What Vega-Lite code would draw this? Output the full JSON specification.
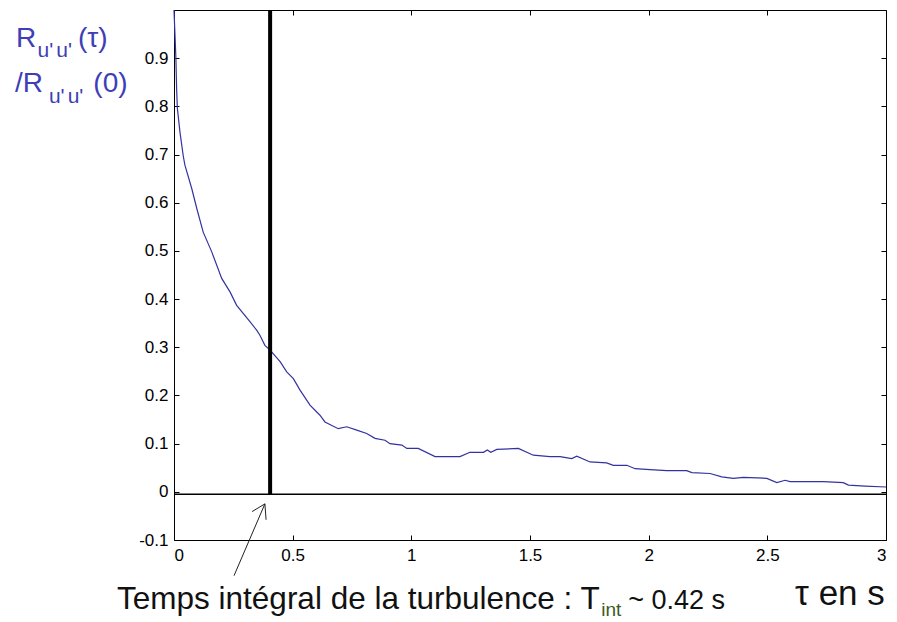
{
  "$schema": "https://vega.github.io/schema/vega-lite/v6.json",
  "width": 712,
  "height": 530,
  "autosize": {"type": "none"},
  "padding": {"left": 174, "top": 10, "right": 11, "bottom": 82},
  "background": "white",
  "config": {
    "view": {"stroke": "#000", "strokeWidth": 1},
    "axis": {
      "labelFont": "Liberation Sans",
      "labelFontSize": 17,
      "labelColor": "#000",
      "tickColor": "#000",
      "tickSize": -5,
      "domain": false,
      "grid": false,
      "title": null
    }
  },
  "datasets": {
    "curve": [
      {"t": 0, "r": 1.0}, {"t": 0.004, "r": 0.95}, {"t": 0.008, "r": 0.9}, {"t": 0.011, "r": 0.837},
      {"t": 0.014, "r": 0.797}, {"t": 0.025, "r": 0.747}, {"t": 0.039, "r": 0.697}, {"t": 0.046, "r": 0.678},
      {"t": 0.075, "r": 0.629}, {"t": 0.096, "r": 0.588}, {"t": 0.123, "r": 0.539}, {"t": 0.159, "r": 0.498},
      {"t": 0.201, "r": 0.443}, {"t": 0.236, "r": 0.415}, {"t": 0.264, "r": 0.387}, {"t": 0.32, "r": 0.353},
      {"t": 0.349, "r": 0.335}, {"t": 0.362, "r": 0.325}, {"t": 0.383, "r": 0.304}, {"t": 0.405, "r": 0.294},
      {"t": 0.447, "r": 0.27}, {"t": 0.475, "r": 0.249}, {"t": 0.503, "r": 0.235}, {"t": 0.531, "r": 0.211},
      {"t": 0.573, "r": 0.18}, {"t": 0.615, "r": 0.159}, {"t": 0.636, "r": 0.145}, {"t": 0.692, "r": 0.131},
      {"t": 0.728, "r": 0.135}, {"t": 0.77, "r": 0.128}, {"t": 0.812, "r": 0.121}, {"t": 0.847, "r": 0.111},
      {"t": 0.889, "r": 0.107}, {"t": 0.91, "r": 0.1}, {"t": 0.96, "r": 0.097}, {"t": 0.981, "r": 0.09},
      {"t": 1.029, "r": 0.09}, {"t": 1.1, "r": 0.073}, {"t": 1.205, "r": 0.073}, {"t": 1.247, "r": 0.082},
      {"t": 1.304, "r": 0.082}, {"t": 1.32, "r": 0.087}, {"t": 1.335, "r": 0.082}, {"t": 1.36, "r": 0.088},
      {"t": 1.451, "r": 0.09}, {"t": 1.514, "r": 0.076}, {"t": 1.584, "r": 0.073}, {"t": 1.627, "r": 0.073},
      {"t": 1.676, "r": 0.069}, {"t": 1.697, "r": 0.074}, {"t": 1.753, "r": 0.062}, {"t": 1.823, "r": 0.06},
      {"t": 1.851, "r": 0.055}, {"t": 1.908, "r": 0.055}, {"t": 1.943, "r": 0.048}, {"t": 2.006, "r": 0.046},
      {"t": 2.076, "r": 0.044}, {"t": 2.16, "r": 0.044}, {"t": 2.182, "r": 0.04}, {"t": 2.259, "r": 0.038},
      {"t": 2.308, "r": 0.031}, {"t": 2.357, "r": 0.028}, {"t": 2.399, "r": 0.03}, {"t": 2.498, "r": 0.028},
      {"t": 2.54, "r": 0.019}, {"t": 2.575, "r": 0.024}, {"t": 2.596, "r": 0.021}, {"t": 2.736, "r": 0.021},
      {"t": 2.82, "r": 0.019}, {"t": 2.842, "r": 0.014}, {"t": 2.912, "r": 0.012}, {"t": 3.0, "r": 0.01}
    ],
    "refs": [
      {"name": "zero", "x": 0, "x2": 3, "y": -0.005, "y2": -0.005},
      {"name": "tint", "x": 0.405, "x2": 0.405, "y": -0.005, "y2": 1.0}
    ],
    "arrow": [
      {"x": 0.253, "y": -0.174, "x2": 0.383, "y2": -0.025},
      {"x": 0.383, "y": -0.025, "x2": 0.329, "y2": -0.041},
      {"x": 0.383, "y": -0.025, "x2": 0.388, "y2": -0.058}
    ],
    "ytitleBig": [
      {"x": -0.666, "y": 0.923, "text": "R"},
      {"x": -0.405, "y": 0.923, "text": "(τ)"},
      {"x": -0.67, "y": 0.83, "text": "/R"},
      {"x": -0.34, "y": 0.83, "text": "(0)"}
    ],
    "ytitleSub": [
      {"x": -0.575, "y": 0.902, "text": "u'"},
      {"x": -0.496, "y": 0.902, "text": "u'"},
      {"x": -0.527, "y": 0.807, "text": "u'"},
      {"x": -0.448, "y": 0.807, "text": "u'"}
    ],
    "caption": [
      {"x": -0.24, "y": -0.243, "text": "Temps intégral de la turbulence : T"}
    ],
    "captionTail": [
      {"x": 1.914, "y": -0.243, "text": "~ 0.42 s"}
    ],
    "captionSub": [
      {"x": 1.8, "y": -0.257, "text": "int"}
    ],
    "xlabel": [
      {"x": 2.617, "y": -0.234, "text": "τ en s"}
    ]
  },
  "layer": [
    {
      "data": {"name": "curve"},
      "mark": {"type": "line", "color": "#3333a0", "strokeWidth": 1.2},
      "encoding": {
        "x": {"field": "t", "type": "quantitative",
              "scale": {"domain": [0, 3], "nice": false, "zero": false},
              "axis": {"orient": "bottom", "values": [0, 0.5, 1, 1.5, 2, 2.5, 3], "format": ".1~f", "labelPadding": 12}},
        "y": {"field": "r", "type": "quantitative",
              "scale": {"domain": [-0.1, 1], "nice": false, "zero": false},
              "axis": {"orient": "left", "values": [-0.1, 0, 0.1, 0.2, 0.3, 0.4, 0.5, 0.6, 0.7, 0.8, 0.9],
                       "labelExpr": "datum.value === 0 ? '0' : (datum.value < 0 ? '-' : '') + format(abs(datum.value), '.1f')",
                       "labelPadding": 11}}
      }
    },
    {
      "data": {"name": "curve"},
      "mark": {"type": "line", "opacity": 0},
      "encoding": {
        "x": {"field": "t", "type": "quantitative",
              "scale": {"domain": [0, 3], "nice": false, "zero": false},
              "axis": {"orient": "top", "values": [0, 0.5, 1, 1.5, 2, 2.5, 3], "labels": false}},
        "y": {"field": "r", "type": "quantitative",
              "scale": {"domain": [-0.1, 1], "nice": false, "zero": false},
              "axis": {"orient": "right", "values": [-0.1, 0, 0.1, 0.2, 0.3, 0.4, 0.5, 0.6, 0.7, 0.8, 0.9], "labels": false}}
      }
    },
    {
      "data": {"name": "refs"},
      "transform": [{"filter": "datum.name === 'zero'"}],
      "mark": {"type": "rule", "color": "#000", "strokeWidth": 1.3},
      "encoding": {
        "x": {"field": "x", "type": "quantitative", "scale": {"domain": [0, 3], "nice": false, "zero": false}, "axis": null},
        "x2": {"field": "x2"},
        "y": {"field": "y", "type": "quantitative", "scale": {"domain": [-0.1, 1], "nice": false, "zero": false}, "axis": null},
        "y2": {"field": "y2"}
      }
    },
    {
      "data": {"name": "refs"},
      "transform": [{"filter": "datum.name === 'tint'"}],
      "mark": {"type": "rule", "color": "#000", "strokeWidth": 4},
      "encoding": {
        "x": {"field": "x", "type": "quantitative", "scale": {"domain": [0, 3], "nice": false, "zero": false}, "axis": null},
        "y": {"field": "y", "type": "quantitative", "scale": {"domain": [-0.1, 1], "nice": false, "zero": false}, "axis": null},
        "y2": {"field": "y2"}
      }
    },
    {
      "data": {"name": "arrow"},
      "mark": {"type": "rule", "color": "#222", "strokeWidth": 1},
      "encoding": {
        "x": {"field": "x", "type": "quantitative", "scale": {"domain": [0, 3], "nice": false, "zero": false}, "axis": null},
        "x2": {"field": "x2"},
        "y": {"field": "y", "type": "quantitative", "scale": {"domain": [-0.1, 1], "nice": false, "zero": false}, "axis": null},
        "y2": {"field": "y2"}
      }
    },
    {
      "data": {"name": "ytitleBig"},
      "mark": {"type": "text", "font": "Liberation Sans", "fontSize": 28, "color": "#3e3eb8", "align": "left", "baseline": "alphabetic"},
      "encoding": {
        "x": {"field": "x", "type": "quantitative", "scale": {"domain": [0, 3], "nice": false, "zero": false}, "axis": null},
        "y": {"field": "y", "type": "quantitative", "scale": {"domain": [-0.1, 1], "nice": false, "zero": false}, "axis": null},
        "text": {"field": "text"}
      }
    },
    {
      "data": {"name": "ytitleSub"},
      "mark": {"type": "text", "font": "Liberation Sans", "fontSize": 21, "color": "#3e3eb8", "align": "left", "baseline": "alphabetic"},
      "encoding": {
        "x": {"field": "x", "type": "quantitative", "scale": {"domain": [0, 3], "nice": false, "zero": false}, "axis": null},
        "y": {"field": "y", "type": "quantitative", "scale": {"domain": [-0.1, 1], "nice": false, "zero": false}, "axis": null},
        "text": {"field": "text"}
      }
    },
    {
      "data": {"name": "caption"},
      "mark": {"type": "text", "font": "Liberation Sans", "fontSize": 31.5, "color": "#111", "align": "left", "baseline": "alphabetic"},
      "encoding": {
        "x": {"field": "x", "type": "quantitative", "scale": {"domain": [0, 3], "nice": false, "zero": false}, "axis": null},
        "y": {"field": "y", "type": "quantitative", "scale": {"domain": [-0.1, 1], "nice": false, "zero": false}, "axis": null},
        "text": {"field": "text"}
      }
    },
    {
      "data": {"name": "captionTail"},
      "mark": {"type": "text", "font": "Liberation Sans", "fontSize": 27, "color": "#111", "align": "left", "baseline": "alphabetic"},
      "encoding": {
        "x": {"field": "x", "type": "quantitative", "scale": {"domain": [0, 3], "nice": false, "zero": false}, "axis": null},
        "y": {"field": "y", "type": "quantitative", "scale": {"domain": [-0.1, 1], "nice": false, "zero": false}, "axis": null},
        "text": {"field": "text"}
      }
    },
    {
      "data": {"name": "captionSub"},
      "mark": {"type": "text", "font": "Liberation Sans", "fontSize": 19, "color": "#3d5a1f", "align": "left", "baseline": "alphabetic"},
      "encoding": {
        "x": {"field": "x", "type": "quantitative", "scale": {"domain": [0, 3], "nice": false, "zero": false}, "axis": null},
        "y": {"field": "y", "type": "quantitative", "scale": {"domain": [-0.1, 1], "nice": false, "zero": false}, "axis": null},
        "text": {"field": "text"}
      }
    },
    {
      "data": {"name": "xlabel"},
      "mark": {"type": "text", "font": "Liberation Sans", "fontSize": 35, "color": "#111", "align": "left", "baseline": "alphabetic"},
      "encoding": {
        "x": {"field": "x", "type": "quantitative", "scale": {"domain": [0, 3], "nice": false, "zero": false}, "axis": null},
        "y": {"field": "y", "type": "quantitative", "scale": {"domain": [-0.1, 1], "nice": false, "zero": false}, "axis": null},
        "text": {"field": "text"}
      }
    }
  ],
  "resolve": {"axis": {"x": "independent", "y": "independent"}}
}
